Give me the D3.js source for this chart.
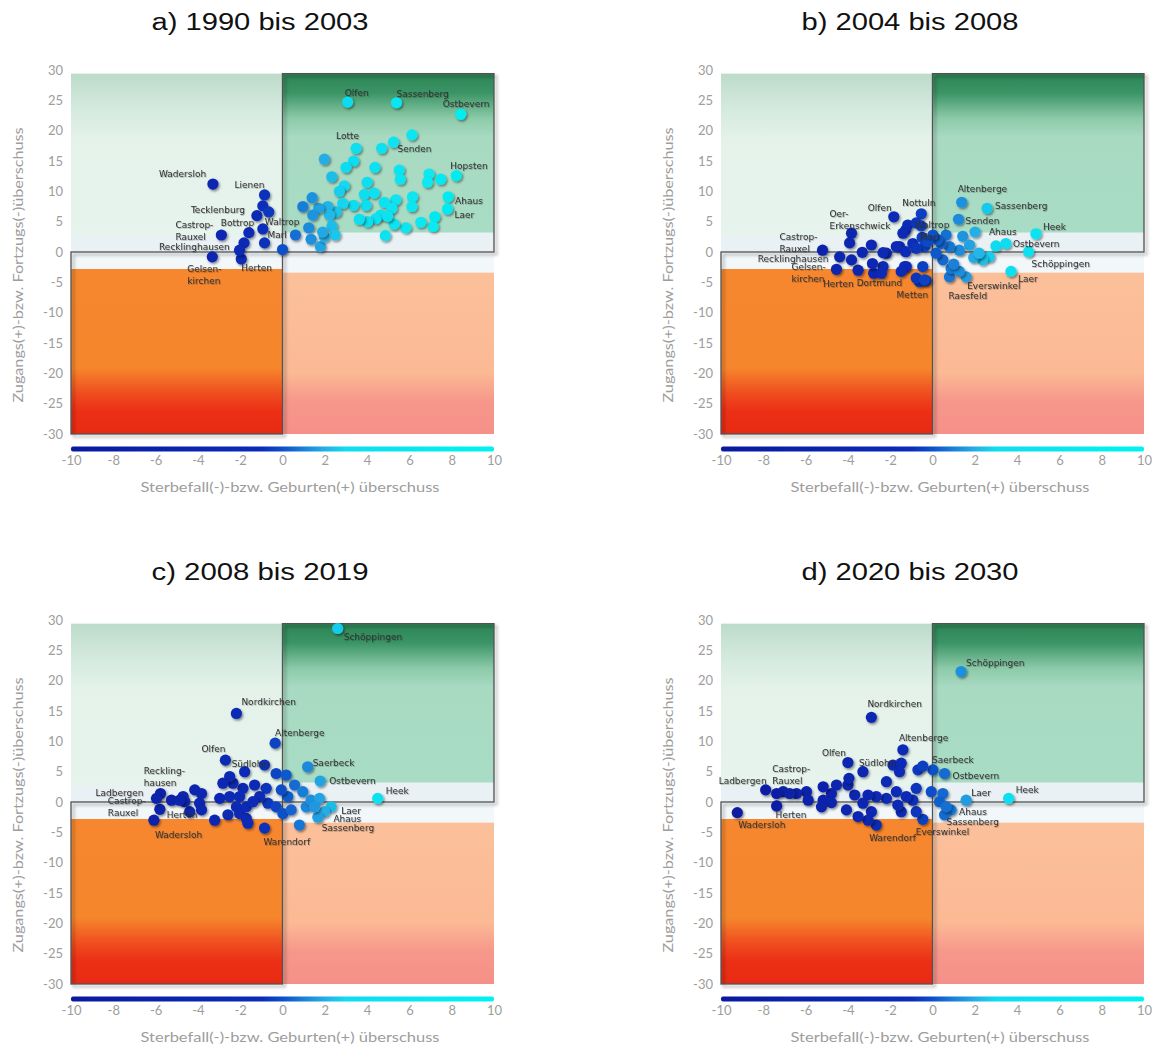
<!DOCTYPE html>
<html>
<head>
<meta charset="utf-8">
<script src="https://cdn.jsdelivr.net/npm/d3@7"></script>
<style>
  body { margin: 0; background: #fff; }
  svg { display: block; }
</style>
</head>
<body>
<svg id="chart" width="1156" height="1047"></svg>
<script>
// ---- data (x = Sterbefall/Geburten-Saldo, y = Wanderungssaldo) ----
// labelled towns first, then the unlabelled ones ("" as name)
const xTicks = [-10, -8, -6, -4, -2, 0, 2, 4, 6, 8, 10];
const yTicks = [-30, -25, -20, -15, -10, -5, 0, 5, 10, 15, 20, 25, 30];

const aNames = ["Olfen","Sassenberg","Ostbevern","Lotte","Senden","Hopsten","Ahaus","Laer","Wadersloh","Lienen",
  "Tecklenburg","Bottrop","Waltrop","Marl","Castrop-|Rauxel","Recklinghausen","Gelsen-|kirchen","Herten"];
const aX = [3.08,5.39,8.43,3.48,5.25,8.22,7.83,7.8,-3.29,-0.85,-1.21,-1.59,-0.93,0.61,-2.89,-1.82,-3.32,-1.95,
  6.12,4.69,1.98,3.36,3.0,4.37,5.52,5.57,6.93,6.86,7.48,2.33,4.0,2.92,2.69,3.87,4.34,6.15,6.12,5.36,4.81,5.17,
  7.2,7.12,6.54,5.83,5.28,4.86,4.65,4.42,4.97,4.02,3.63,3.95,3.36,2.85,2.53,2.14,2.22,1.71,1.4,0.96,
  1.43,1.24,1.35,1.79,1.98,2.34,2.49,1.9,0.0,-0.93,-0.65,-0.85,-2.03];
const aY = [24.7,24.6,22.7,17.1,18.1,12.6,9.1,7.1,11.2,9.4,6.0,3.2,3.8,2.8,2.8,1.5,-0.8,-1.15,
  19.3,17.1,15.3,15.0,13.95,13.95,13.5,12.0,12.85,11.5,12.0,12.4,11.5,10.9,10.0,9.5,9.7,9.1,7.5,8.6,8.2,7.2,
  5.8,4.2,4.9,4.0,4.6,2.7,6.1,5.5,5.9,5.0,5.4,7.7,7.7,8.0,6.6,7.5,6.1,7.2,8.95,7.5,
  6.1,4.0,2.1,0.9,2.5,4.3,2.8,3.3,0.4,7.6,6.6,1.5,0.3];

const bNames = ["Castrop-|Rauxel","Recklinghausen","Gelsen-|kirchen","Herten","Dortmund","Metten","Oer-|Erkenschwick",
  "Olfen","Nottuln","Waltrop","Marl","Altenberge","Sassenberg","Senden","Heek","Ahaus","Ostbevern","Schöppingen",
  "Laer","Everswinkel","Raesfeld"];
const bX = [-5.2,-4.39,-4.54,-3.52,-2.78,-0.61,-3.83,-1.83,-0.53,-1.17,-0.93,1.38,2.58,1.23,4.89,3.0,3.47,4.54,3.71,1.59,0.8,
  2.01,1.43,0.64,2.69,2.37,1.95,1.75,1.27,0.8,0.41,0.88,1.27,0.49,0.17,0.25,0.02,-0.49,-1.27,-0.77,-0.38,
  -0.77,-1.56,-2.18,-1.32,-0.46,-0.3,-2.34,-3.92,-3.83,-3.32,-2.89,-2.34,-2.84,-2.42,-1.71,-1.4,-1.27,-1.24,-1.48,-0.77,
  -0.38,-0.22,-0.53,2.2,1.0];
const bY = [0.3,-0.8,-2.85,-3.0,-3.5,-4.9,3.1,5.8,6.3,4.45,1.4,8.2,7.2,5.4,3.0,1.0,1.4,0.05,-3.2,-4.1,-4.1,
  3.3,2.6,2.8,-0.8,-1.3,-0.9,1.15,0.3,0.9,1.4,-2.7,-3.2,-1.3,-0.2,2.0,2.8,2.4,3.6,4.8,0.9,
  0.6,0.9,-0.2,-2.4,-2.4,-4.7,-2.4,1.5,-1.3,-0.05,1.15,-0.1,-1.9,-3.5,0.9,3.1,0.05,-2.4,-3.2,-4.3,
  -4.6,1.7,4.3,-0.2,-2.0];

const cNames = ["Schöppingen","Nordkirchen","Altenberge","Olfen","Südlohn","Saerbeck","Ostbevern","Reckling-|hausen",
  "Ladbergen","Castrop-|Rauxel","Herten","Wadersloh","Heek","Laer","Ahaus","Sassenberg","Warendorf"];
const cX = [2.61,-2.18,-0.35,-2.7,-1.79,1.19,1.78,-4.15,-5.77,-5.8,-4.39,-6.08,4.5,2.3,1.98,1.67,-0.85,
  -0.85,-0.3,0.17,0.57,0.96,0.25,-0.06,-0.77,-0.69,-0.3,-1.08,-1.32,-1.87,-2.34,-2.5,-2.82,-2.97,-2.5,-2.03,-2.18,
  -2.58,-2.03,-1.71,-1.64,-3.21,-1.71,-1.4,0.02,0.41,0.8,1.12,1.35,1.75,1.51,-5.96,-5.25,-4.7,-4.62,-3.83,-3.92,
  -3.83,-4.86];
const cY = [28.6,14.6,9.7,6.9,5.0,5.8,3.45,2.0,1.4,-1.2,-1.6,-3.0,0.6,-0.8,-1.6,-2.5,-4.3,
  6.1,4.7,4.45,2.8,1.7,0.9,2.0,2.25,-0.2,-0.8,0.9,2.8,2.25,3.1,4.2,3.1,0.6,0.9,0.9,-0.8,
  -2.1,-1.9,-2.7,-3.5,-3.0,-0.8,0.05,-1.9,-1.3,-3.8,-0.8,0.3,0.6,-0.8,0.6,0.3,0.9,0.05,1.4,-0.2,
  -1.3,0.3];

const dNames = ["Schöppingen","Nordkirchen","Altenberge","Olfen","Südlohn","Saerbeck","Ostbevern","Castrop-|Rauxel",
  "Ladbergen","Laer","Heek","Herten","Wadersloh","Ahaus","Sassenberg","Everswinkel","Warendorf"];
const dX = [1.35,-2.89,-1.4,-4.0,-3.29,0.02,0.57,-7.06,-7.89,1.59,3.6,-7.37,-9.23,0.88,0.57,-0.46,-2.66,
  -1.87,-1.48,-1.56,-0.69,-0.46,-2.18,-1.71,-0.77,-0.06,0.49,0.33,0.65,-0.77,-0.93,-1.24,-1.48,-1.64,-2.18,-2.66,-3.05,
  -2.89,-3.05,-3.52,-4.07,-3.68,-4.0,-3.95,-4.54,-4.78,-5.17,-5.17,-4.78,-5.25,-5.96,-5.88,-6.43,-7.37,-6.75,-3.29];
const dY = [21.5,13.95,8.6,6.5,5.0,5.3,4.7,1.7,2.0,0.3,0.6,-0.65,-1.75,-1.3,-2.1,-2.85,-3.8,
  6.1,6.4,5.0,5.3,5.9,3.35,1.7,2.25,1.7,1.4,0.05,-0.8,-1.6,0.3,0.9,-1.6,-0.5,0.6,0.9,1.15,
  -1.6,-3.0,-2.4,-1.3,1.15,2.8,3.9,2.8,1.4,2.5,0.3,-0.1,-0.8,1.7,0.3,1.4,1.4,1.4,-0.2];

// label placement (pixel offset from the dot to the text baseline start)
const aLabelPos = {"Olfen":[-3,-6],"Sassenberg":[0,-6],"Ostbevern":[-18,-7],"Lotte":[-20,-9],"Senden":[4,9.5],
  "Hopsten":[-6,-7],"Ahaus":[7,7],"Laer":[7,9.5],"Wadersloh":[-54,-7.5],"Lienen":[-30,-6.5],"Tecklenburg":[-66,-3],
  "Bottrop":[-28,-7],"Waltrop":[2,-3.5],"Marl":[-28,2.5],"Castrop-|Rauxel":[-46,-7.5],"Recklinghausen":[-85,7],
  "Gelsen-|kirchen":[-25,15],"Herten":[0,12.5]};
const bLabelPos = {"Castrop-|Rauxel":[-43,-10.5],"Recklinghausen":[-82,5],"Gelsen-|kirchen":[-45,1],"Herten":[-35,17],
  "Dortmund":[-17,13],"Metten":[-23,16],"Oer-|Erkenschwick":[-22,-16],"Olfen":[-26,-6],"Nottuln":[-19,-7.5],
  "Waltrop":[7,2.5],"Marl":[7,-4],"Altenberge":[-4,-10],"Sassenberg":[8,1],"Senden":[7,4.5],"Heek":[7,-3.5],
  "Ahaus":[-7,-10.5],"Ostbevern":[7,3],"Schöppingen":[3,15],"Laer":[7,11],"Everswinkel":[1,12],"Raesfeld":[-1,22]};
const cLabelPos = {"Schöppingen":[6,12],"Nordkirchen":[5,-8],"Altenberge":[0,-7],"Olfen":[-24,-8.5],"Südlohn":[-13,-5],
  "Saerbeck":[5,-1],"Ostbevern":[9,2.5],"Reckling-|hausen":[-51,-15.5],"Ladbergen":[-65,2],"Castrop-|Rauxel":[-52,-5],
  "Herten":[-23,6],"Wadersloh":[1,17.5],"Heek":[8,-4],"Laer":[10,7],"Ahaus":[9,10],"Sassenberg":[4,14],"Warendorf":[-1,17]};
const dLabelPos = {"Schöppingen":[5,-6],"Nordkirchen":[-4,-10],"Altenberge":[-4,-8.5],"Olfen":[-26,-7],"Südlohn":[-4,-6],
  "Saerbeck":[-1,-6.5],"Ostbevern":[8,6],"Castrop-|Rauxel":[-11,-20],"Ladbergen":[-47,-5.5],"Laer":[5,-4.5],"Heek":[7,-5],
  "Herten":[-1,12.5],"Wadersloh":[1,15],"Ahaus":[8,5.5],"Sassenberg":[2,10.5],"Everswinkel":[-7,16],"Warendorf":[-7,16]};

const panels = [
  {title: "a) 1990 bis 2003", ox: 0,   oy: 0,   names: aNames, xs: aX, ys: aY, pos: aLabelPos},
  {title: "b) 2004 bis 2008", ox: 650, oy: 0,   names: bNames, xs: bX, ys: bY, pos: bLabelPos},
  {title: "c) 2008 bis 2019", ox: 0,   oy: 550, names: cNames, xs: cX, ys: cY, pos: cLabelPos},
  {title: "d) 2020 bis 2030", ox: 650, oy: 550, names: dNames, xs: dX, ys: dY, pos: dLabelPos}
];

const svg = d3.select('#chart');
const defs = svg.append('defs');

// colour of dots by natural balance
const color = d3.scaleLinear()
  .domain([-10, -1, 0, 1, 2, 3, 10])
  .range(["#0a1a9e", "#0a2cb8", "#0d50c8", "#1a80d8", "#25aee6", "#10dcf0", "#00f2f2"]);

function vGrad(id, stops) {
  const g = defs.append('linearGradient').attr('id', id)
    .attr('x1', 0).attr('y1', 0).attr('x2', 0).attr('y2', 1);
  stops.forEach(s => g.append('stop').attr('offset', s[0]).attr('stop-color', s[1]));
}
vGrad('gTL', [[0, '#bcdbc9'], [0.22, '#d5eadf'], [0.4, '#e4f2ea'], [1, '#e7f3ed']]);
vGrad('gTR', [[0, '#2c8555'], [0.12, '#3b9465'], [0.28, '#8ccaa9'], [0.4, '#a8dac2'], [1, '#a9dcc4']]);
vGrad('gBL', [[0, '#f6872f'], [0.6, '#f6862c'], [0.76, '#ef4b1f'], [0.86, '#eb3016'], [1, '#e82a12']]);
vGrad('gBR', [[0, '#fbc09a'], [0.62, '#fbb994'], [0.8, '#f6978b'], [1, '#f59088']]);

const cb = defs.append('linearGradient').attr('id', 'gBar');
d3.range(0, 1.0001, 0.05).forEach(t => {
  cb.append('stop').attr('offset', t).attr('stop-color', color(-10 + 20 * t));
});

const fDot = defs.append('filter').attr('id', 'shDot').attr('x', '-50%').attr('y', '-50%').attr('width', '200%').attr('height', '200%');
fDot.append('feDropShadow').attr('dx', 1.3).attr('dy', 1.6).attr('stdDeviation', 1).attr('flood-color', '#000').attr('flood-opacity', 0.45);
const fBox = defs.append('filter').attr('id', 'shBox').attr('x', '-10%').attr('y', '-10%').attr('width', '120%').attr('height', '120%');
fBox.append('feDropShadow').attr('dx', 2.5).attr('dy', 2.5).attr('stdDeviation', 1.8).attr('flood-color', '#000').attr('flood-opacity', 0.4);
const fTxt = defs.append('filter').attr('id', 'shTxt');
fTxt.append('feDropShadow').attr('dx', 0.8).attr('dy', 0.8).attr('stdDeviation', 0.6).attr('flood-color', '#000').attr('flood-opacity', 0.3);

panels.forEach(p => {
  const x = d3.scaleLinear().domain([-10, 10]).range([p.ox + 71, p.ox + 494]);
  const y = d3.scaleLinear().domain([-30, 30]).range([p.oy + 434, p.oy + 70]);
  const g = svg.append('g');
  const top = 29.4;

  g.append('text')
    .attr('x', p.ox + 260).attr('y', p.oy + 30)
    .attr('text-anchor', 'middle')
    .attr('font-family', 'Liberation Sans, Arial, sans-serif')
    .attr('font-size', 23).attr('fill', '#111')
    .attr('textLength', 217).attr('lengthAdjust', 'spacingAndGlyphs')
    .text(p.title);

  // background fields
  const area = (x0, x1, y0, y1, fill) => g.append('rect')
    .attr('x', x(x0)).attr('y', y(y1))
    .attr('width', x(x1) - x(x0)).attr('height', y(y0) - y(y1))
    .attr('fill', fill);
  area(-10, 10, -3.4, 3.2, '#f2f7fa');
  area(-10, 10, 0, 3.2, '#e9f1f4');
  area(-10, 0, 2.6, top, 'url(#gTL)');
  area(0, 10, 3.2, top, 'url(#gTR)');
  area(-10, 0, -30, -2.8, 'url(#gBL)');
  area(0, 10, -30, -3.4, 'url(#gBR)');

  // framed quadrants
  const box = (x0, x1, y0, y1) => g.append('rect')
    .attr('x', x(x0)).attr('y', y(y1))
    .attr('width', x(x1) - x(x0)).attr('height', y(y0) - y(y1))
    .attr('fill', 'none').attr('stroke', '#525252').attr('stroke-width', 1.3)
    .attr('filter', 'url(#shBox)');
  box(0, 10, 0, top);
  box(-10, 0, -30, 0);

  const pts = p.xs.map((v, i) => ({x: v, y: p.ys[i], name: p.names[i] || ""}));

  g.append('g').selectAll('circle')
    .data(pts)
    .enter()
    .append('circle')
    .attr('cx', d => x(d.x))
    .attr('cy', d => y(d.y))
    .attr('r', 5.6)
    .attr('fill', d => color(d.x))
    .attr('filter', 'url(#shDot)');

  const lab = g.append('g')
    .attr('font-family', 'DejaVu Sans, sans-serif')
    .attr('font-size', 9)
    .attr('fill', '#333')
    .attr('filter', 'url(#shTxt)');
  pts.filter(d => d.name).forEach(d => {
    const off = p.pos[d.name] || [6, -6];
    const t = lab.append('text')
      .attr('x', x(d.x) + off[0])
      .attr('y', y(d.y) + off[1]);
    d.name.split('|').forEach((line, k) => {
      t.append('tspan').attr('x', x(d.x) + off[0]).attr('dy', k === 0 ? 0 : 12).text(line);
    });
  });

  // colour bar under the plot
  g.append('rect')
    .attr('x', x(-10)).attr('y', p.oy + 446.5)
    .attr('width', x(10) - x(-10)).attr('height', 5)
    .attr('rx', 2)
    .attr('fill', 'url(#gBar)');

  const gx = g.append('g')
    .attr('transform', 'translate(0,' + (p.oy + 460) + ')')
    .call(d3.axisBottom(x).tickValues(xTicks).tickSize(0).tickPadding(0).tickFormat(d => String(d)));
  gx.select('.domain').remove();
  gx.selectAll('text')
    .attr('dy', '0.35em')
    .attr('font-family', 'Lato, sans-serif').attr('font-size', 13).attr('fill', '#9d9d9d');

  const gy = g.append('g')
    .attr('transform', 'translate(' + (p.ox + 63) + ',0)')
    .call(d3.axisLeft(y).tickValues(yTicks).tickSize(0).tickPadding(0).tickFormat(d => String(d)));
  gy.select('.domain').remove();
  gy.selectAll('text')
    .attr('font-family', 'Lato, sans-serif').attr('font-size', 13).attr('fill', '#9d9d9d');

  g.append('text')
    .attr('x', p.ox + 290).attr('y', p.oy + 492)
    .attr('text-anchor', 'middle')
    .attr('font-family', 'Lato, sans-serif').attr('font-size', 14).attr('fill', '#9d9d9d')
    .attr('textLength', 299).attr('lengthAdjust', 'spacingAndGlyphs')
    .text('Sterbefall(-)-bzw. Geburten(+) überschuss');

  g.append('text')
    .attr('transform', 'translate(' + (p.ox + 23) + ',' + (p.oy + 265) + ') rotate(-90)')
    .attr('text-anchor', 'middle')
    .attr('font-family', 'Lato, sans-serif').attr('font-size', 14).attr('fill', '#9d9d9d')
    .attr('textLength', 275).attr('lengthAdjust', 'spacingAndGlyphs')
    .text('Zugangs(+)-bzw. Fortzugs(-)überschuss');
});
</script>
</body>
</html>
